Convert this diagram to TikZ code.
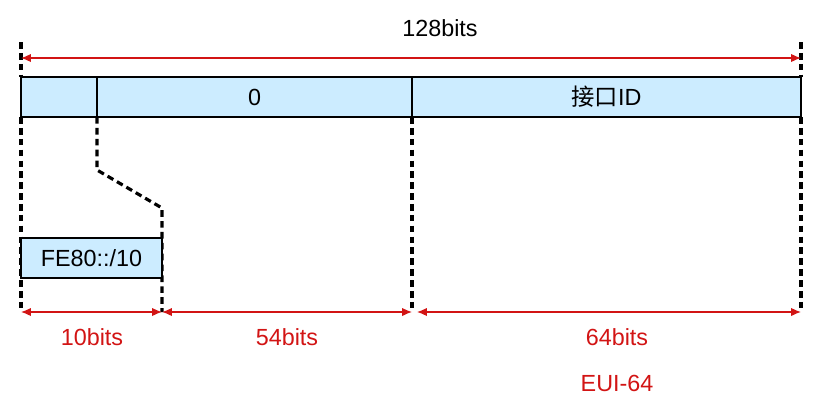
\documentclass[tikz,border=0pt]{standalone}
\usepackage{fontspec}
\setmainfont{Liberation Sans}
\newfontfamily\cjk{Noto Sans CJK SC}
\usetikzlibrary{arrows.meta}

\definecolor{cellblue}{RGB}{204,236,255}
\definecolor{dimred}{RGB}{210,20,20}

\begin{document}
\begin{tikzpicture}[x=0.0265cm, y=-0.0265cm,
    every node/.style={font=\fontsize{17.6}{20}\selectfont},
    cell/.style={draw, line width=2pt, fill=cellblue, minimum height=40*0.0265cm, inner sep=0pt, outer sep=0pt},
    guide/.style={line width=2.4pt, dash pattern=on 5pt off 3.2pt},
    dim/.style={dimred, line width=0.9pt, {Latex[length=2.6mm,width=2.2mm]}-{Latex[length=2.6mm,width=2.2mm]}},
    dimlabel/.style={text=dimred}]
    \useasboundingbox (0,0) rectangle (840,413);

    % address bar
    \node (c1) at (59,97) [cell, minimum width=76*0.0265cm] {};
    \node (c2) at (254.5,97) [cell, minimum width=315*0.0265cm] {0};
    \node (c3) at (606.5,97) [cell, minimum width=389*0.0265cm] {{\cjk 接口}ID};

    % guide lines
    \coordinate (t1) at (21,42);
    \coordinate (t2) at (801,42);
    \coordinate (b1) at (21,312);
    \coordinate (b2) at (162,312);
    \coordinate (b3) at (412,312);
    \coordinate (b4) at (417,312);
    \coordinate (b5) at (801,312);
    \coordinate (k1) at (97,170);
    \coordinate (k2) at (162,208);

    \draw [guide] (t1) -- (c1.north west);
    \draw [guide] (t2) -- (c3.north east);
    \draw [guide] (c1.south west) -- (b1);
    \draw [guide] (c1.south east) -- (k1) -- (k2) -- (b2);
    \draw [guide] (c2.south east) -- (b3);
    \draw [guide] (c3.south east) -- (b5);

    \node (fe) at (91.5,258) [cell, minimum width=141*0.0265cm] {FE80::/10};

    % bit widths
    \draw [dim] (21,58) -- (801,58);
    \node (l0) at (440,28) {128bits};

    \draw [dim] (b1) -- (b2);
    \draw [dim] (b2) -- (b3);
    \draw [dim] (b4) -- (b5);
    \node (l1) at (92,337) [dimlabel] {10bits};
    \node (l2) at (287,337) [dimlabel] {54bits};
    \node (l3) at (617,337) [dimlabel] {64bits};
    \node (l4) at (617,383) [dimlabel] {EUI-64};
\end{tikzpicture}
\end{document}
